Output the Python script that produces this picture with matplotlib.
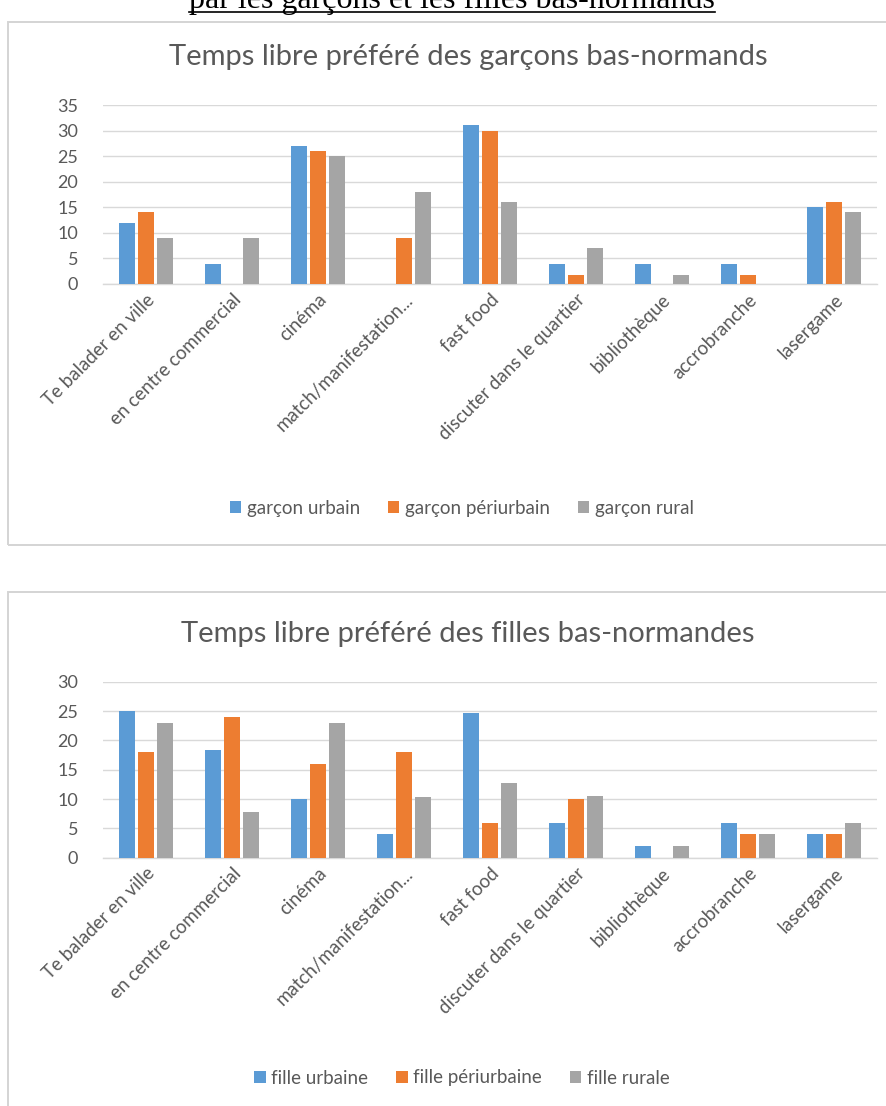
import matplotlib
matplotlib.use("Agg")
import matplotlib.pyplot as plt
import numpy as np
from matplotlib.patches import Rectangle
from matplotlib.lines import Line2D

plt.rcParams['font.family'] = ['Lato', 'DejaVu Sans']

categories = ["Te balader en ville", "en centre commercial", "cinéma",
              "match/manifestation...", "fast food", "discuter dans le quartier",
              "bibliothèque", "accrobranche", "lasergame"]

boys_labels = ["garçon urbain", "garçon périurbain", "garçon rural"]
boys_urbain = [12, 4, 27, 0, 31, 4, 4, 4, 15]
boys_periurbain = [14, 0, 26, 9, 30, 1.8, 0, 1.8, 16]
boys_rural = [9, 9, 25, 18, 16, 7, 1.8, 0, 14]
boys_yticks = [0, 5, 10, 15, 20, 25, 30, 35]

girls_labels = ["fille urbaine", "fille périurbaine", "fille rurale"]
girls_urbaine = [25, 18.3, 10, 4, 24.6, 6, 2, 6, 4]
girls_periurbaine = [18, 24, 16, 18, 6, 10, 0, 4, 4]
girls_rurale = [23, 7.8, 23, 10.4, 12.8, 10.5, 2, 4, 6]
girls_yticks = [0, 5, 10, 15, 20, 25, 30]

main_title = "par les garçons et les filles bas-normands"
boys_title = "Temps libre préféré des garçons bas-normands"
girls_title = "Temps libre préféré des filles bas-normandes"

colors = ["#5B9BD5", "#ED7D31", "#A5A5A5"]
text_col = "#595959"
grid_col = "#D9D9D9"

W, H = 887, 1106
fig = plt.figure(figsize=(W / 100, H / 100), dpi=100)


def fx(px):
    return px / W


def fy(py):
    return 1 - py / H


def panel(top_px, bottom_px, title, title_y_px, ax_top_px, ax_bot_px,
          series, labels, yticks, legend_y_px):
    # frame
    fig.patches.append(Rectangle((fx(8), fy(bottom_px)), 1.2, fy(top_px) - fy(bottom_px),
                                 transform=fig.transFigure, fill=False,
                                 edgecolor="#D4D4D4", linewidth=1.4, zorder=0))
    fig.text(fx(468), fy(title_y_px), title, ha="center", va="center",
             fontsize=21, color=text_col)
    ax = fig.add_axes([fx(103), fy(ax_bot_px), fx(877) - fx(103),
                       fy(ax_top_px) - fy(ax_bot_px)])
    x = np.arange(len(categories))
    w = 0.186
    off = 0.221
    handles = []
    for i, (vals, lab) in enumerate(zip(series, labels)):
        b = ax.bar(x + (i - 1) * off, vals, width=w, color=colors[i],
                   linewidth=0, label=lab, zorder=3)
        handles.append(b)
    ax.set_xlim(-0.5, len(categories) - 0.5)
    ax.set_ylim(0, yticks[-1])
    ax.set_yticks(yticks)
    ax.yaxis.grid(True, color=grid_col, linewidth=1.0, zorder=0)
    ax.set_axisbelow(True)
    for s in ["top", "right", "left"]:
        ax.spines[s].set_visible(False)
    ax.spines["bottom"].set_color(grid_col)
    ax.spines["bottom"].set_linewidth(1.0)
    ax.tick_params(axis="y", length=0, labelsize=13, labelcolor=text_col, pad=18)
    ax.tick_params(axis="x", length=0, labelsize=13.5, labelcolor=text_col, pad=5)
    ax.set_xticks(x)
    ax.set_xticklabels(categories, rotation=45, ha="right", rotation_mode="anchor")
    ax.set_facecolor("none")
    fig.legend(handles=handles, labels=labels, loc="center",
               bbox_to_anchor=(fx(462), fy(legend_y_px)), ncol=3, frameon=False,
               fontsize=13.5, labelcolor=text_col, handlelength=0.6, handleheight=0.6,
               handletextpad=0.3, columnspacing=1.5)
    return ax


panel(22, 545, boys_title, 57, 105, 284,
      [boys_urbain, boys_periurbain, boys_rural], boys_labels, boys_yticks, 508)
panel(592, 1112, girls_title, 634, 681.7, 857.7,
      [girls_urbaine, girls_periurbaine, girls_rurale], girls_labels, girls_yticks, 1078)

# cropped top heading with underline
t = fig.text(fx(452), fy(8), main_title, ha="center", va="baseline",
             fontsize=23, family="Liberation Serif", color="black")
fig.canvas.draw()
bb = t.get_window_extent()
fig.add_artist(Line2D([bb.x0 / W, bb.x1 / W], [fy(12), fy(12)],
                      transform=fig.transFigure, color="black", linewidth=1.2))

fig.savefig("out.png", dpi=100, facecolor="white")
